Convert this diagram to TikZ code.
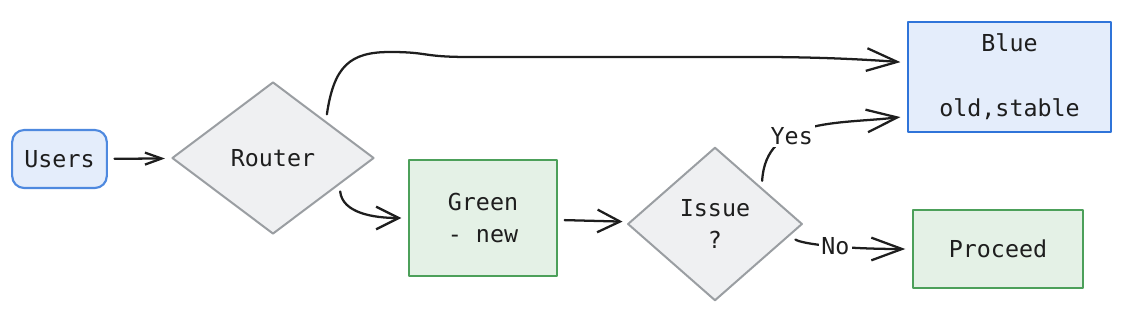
\documentclass[tikz,border=0pt]{standalone}
\usepackage{fontspec}
\setmonofont{DejaVu Sans Mono}
\usetikzlibrary{arrows.meta, shapes.geometric}

\definecolor{ink}{HTML}{1E1E1E}
\definecolor{bluefill}{HTML}{E4EDFB}
\definecolor{blueline}{HTML}{2F74D9}
\definecolor{greenfill}{HTML}{E4F1E6}
\definecolor{greenline}{HTML}{4CA05A}
\definecolor{grayfill}{HTML}{EFF0F2}
\definecolor{grayline}{HTML}{9A9EA2}

\tikzset{
  box/.style={draw, line width=1.6pt, inner sep=0pt, align=center},
  bluebox/.style={box, draw=blueline, fill=bluefill},
  greenbox/.style={box, draw=greenline, fill=greenfill},
  decision/.style={diamond, draw=grayline, fill=grayfill, line width=1.5pt, inner sep=0pt, align=center},
  flow/.style={draw=ink, line width=1.7pt, shorten <=5pt, shorten >=5pt,
    -{Straight Barb[length=23pt, width=17pt]}},
  flowmid/.style={flow, -{Straight Barb[length=17pt, width=17pt]}},
  flowsmall/.style={flow, -{Straight Barb[length=12.5pt, width=9pt]}},
  lbl/.style={fill=white, inner sep=2pt}
}

\begin{document}
\begin{tikzpicture}[x=0.75pt, y=-0.75pt, line cap=round, line join=round,
  font=\ttfamily\fontsize{17.5}{24.5}\selectfont, text=ink]
  % Canvas (pixel units, y down)
  \useasboundingbox (0,0) rectangle (1124,318);

  % Nodes
  \node[bluebox, rounded corners=9pt, draw=blueline!85!white, minimum width=71pt, minimum height=43.5pt] (users) at (59.5,159) {Users};
  \node[decision, minimum width=151.5pt, minimum height=114pt] (router) at (273,158) {Router};
  \node[greenbox, minimum width=111pt, minimum height=87pt] (green) at (483,218) {Green\\- new};
  \node[decision, minimum width=131pt, minimum height=115pt] (issue) at (715,224) {Issue\\?};
  \node[bluebox, minimum width=152pt, minimum height=82.5pt] (blue) at (1009.5,77) {Blue\\~\\old,stable};
  \node[greenbox, minimum width=127.5pt, minimum height=58.5pt] (proceed) at (998,249) {Proceed};

  % Connectors
  \draw[flowsmall] (users) -- (router);
  \draw[flow] (router.35) .. controls +(8,-55) and +(-40,0) .. (390,52)
    .. controls +(40,0) and +(-50,0) .. (470,57) -- (760,57)
    .. controls +(60,0) and +(-40,-3) .. (blue.172);
  \draw[flowmid] (router.-22) .. controls +(3,28) and +(-35,0) .. (green.west);
  \draw[flowmid] (green) -- (issue);
  \draw[flow] (issue.38) .. controls +(4,-70) and +(-70,8) .. node[lbl, pos=0.38] {Yes} (blue.201);
  \draw[flow] (issue.-9) .. controls +(12,8) and +(-70,0) .. node[lbl, pos=0.55] {No} (proceed.west);
\end{tikzpicture}
\end{document}
